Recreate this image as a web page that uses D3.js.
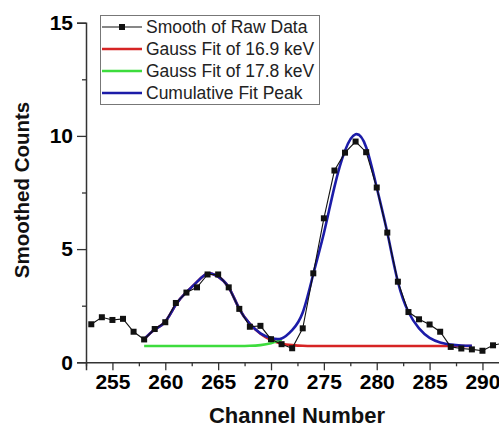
<!DOCTYPE html>
<html>
<head>
<meta charset="utf-8">
<script src="https://cdn.jsdelivr.net/npm/d3@7"></script>
<style>
  body { margin: 0; background: #fff; }
  svg { display: block; font-family: "Liberation Sans", Arial, sans-serif; }
</style>
</head>
<body>
<svg id="chart" width="499" height="430"></svg>
<script>
// raw (smoothed) counts, one per channel
const channels = d3.range(253, 293)
const smoothed = [1.68, 1.99, 1.87, 1.92, 1.35, 1.01, 1.47, 1.77, 2.62, 3.08,
                  3.31, 3.88, 3.88, 3.31, 2.36, 1.57, 1.61, 1.02, 0.80, 0.62,
                  1.50, 3.93, 6.36, 8.47, 9.26, 9.75, 9.28, 7.72, 5.73, 3.56,
                  2.22, 1.90, 1.67, 1.35, 0.68, 0.61, 0.57, 0.51, 0.75, 0.85]

// fit curves at each channel
const fitChannels = d3.range(258, 290)
const cumulativeFit = [1.02, 1.45, 1.80, 2.55, 3.10, 3.55, 3.92, 3.78, 3.31, 2.36,
                       1.70, 1.28, 1.07, 1.05, 1.42, 2.20, 3.90, 5.70, 7.75, 9.35,
                       10.07, 9.50, 7.72, 5.73, 3.56, 2.22, 1.50, 1.08, 0.88, 0.78,
                       0.74, 0.73]
const gauss169 = [1.02, 1.45, 1.80, 2.55, 3.10, 3.55, 3.92, 3.78, 3.31, 2.36,
                  1.70, 1.26, 0.98, 0.82, 0.76, 0.73, 0.72, 0.72, 0.72, 0.72,
                  0.72, 0.72, 0.72, 0.72, 0.72, 0.72, 0.72, 0.72, 0.72, 0.72,
                  0.72, 0.72]
const gauss178Channels = d3.range(258, 272)
const gauss178 = [0.72, 0.72, 0.72, 0.72, 0.72, 0.72, 0.72, 0.72, 0.72, 0.72,
                  0.73, 0.76, 0.84, 1.00]

const xTicks = [255, 260, 265, 270, 275, 280, 285, 290]
const xMinor = [252.5, 257.5, 262.5, 267.5, 272.5, 277.5, 282.5, 287.5]
const yTicks = [0, 5, 10, 15]
const yMinor = [2.5, 7.5, 12.5]
const legendLabels = ["Smooth of Raw Data", "Gauss Fit of 16.9 keV",
                      "Gauss Fit of 17.8 keV", "Cumulative Fit Peak"]

const colors = { raw: "#111", red: "#d62424", green: "#3ddc3d", blue: "#1c1ca8" }

const svg = d3.select("#chart")

const x = d3.scaleLinear().domain([252.5, 292]).range([86, 503.6])
const y = d3.scaleLinear().domain([0, 15]).range([362.3, 22.7])

// axes
const axisColor = "#333"
function styleAxis(g, fontSize) {
    g.select(".domain").attr("stroke", axisColor).attr("stroke-width", 1.5)
    g.selectAll(".tick line").attr("stroke", axisColor).attr("stroke-width", 1.3)
    g.selectAll(".tick text")
        .attr("fill", "#000")
        .style("font-size", fontSize + "px")
        .style("font-weight", "bold")
}

svg.append("g")
    .attr("transform", `translate(0,${y(0)})`)
    .call(d3.axisBottom(x).tickValues(xTicks).tickSize(8).tickPadding(4).tickFormat(d3.format("d")))
    .call(g => styleAxis(g, 21))
svg.append("g")
    .attr("transform", `translate(0,${y(0)})`)
    .call(d3.axisBottom(x).tickValues(xMinor).tickSize(4).tickFormat(""))
    .call(g => styleAxis(g, 21))
    .call(g => g.select(".domain").remove())

svg.append("g")
    .attr("transform", `translate(${x(252.5)},0)`)
    .call(d3.axisLeft(y).tickValues(yTicks).tickSize(9).tickPadding(4).tickFormat(d3.format("d")))
    .call(g => styleAxis(g, 21))
svg.append("g")
    .attr("transform", `translate(${x(252.5)},0)`)
    .call(d3.axisLeft(y).tickValues(yMinor).tickSize(4).tickFormat(""))
    .call(g => styleAxis(g, 21))
    .call(g => g.select(".domain").remove())

// axis titles
svg.append("text")
    .attr("x", 297).attr("y", 423)
    .attr("text-anchor", "middle")
    .style("font-size", "22px").style("font-weight", "bold")
    .attr("fill", "#111")
    .text("Channel Number")

svg.append("text")
    .attr("transform", "translate(29,190) rotate(-90)")
    .attr("text-anchor", "middle")
    .style("font-size", "20.5px").style("font-weight", "bold")
    .attr("fill", "#111")
    .text("Smoothed Counts")

// fit curves
const smoothLine = d3.line()
    .x(d => x(d[0]))
    .y(d => y(d[1]))
    .curve(d3.curveNatural)

const curves = [
    { ch: fitChannels, v: gauss169, color: colors.red },
    { ch: gauss178Channels, v: gauss178, color: colors.green },
    { ch: fitChannels, v: cumulativeFit, color: colors.blue }
]
svg.append("g").selectAll("path")
    .data(curves)
    .join("path")
    .attr("d", c => smoothLine(c.ch.map((ch, i) => [ch, c.v[i]])))
    .attr("fill", "none")
    .attr("stroke", c => c.color)
    .attr("stroke-width", 2.6)

// raw data line + square markers
const raw = channels.map((ch, i) => ({ ch: ch, v: smoothed[i] }))
svg.append("path")
    .datum(raw)
    .attr("d", d3.line().x(d => x(d.ch)).y(d => y(d.v)))
    .attr("fill", "none")
    .attr("stroke", colors.raw)
    .attr("stroke-width", 1.1)

const sq = 6
svg.append("g").selectAll("rect")
    .data(raw)
    .join("rect")
    .attr("x", d => x(d.ch) - sq / 2)
    .attr("y", d => y(d.v) - sq / 2)
    .attr("width", sq)
    .attr("height", sq)
    .attr("fill", colors.raw)

// legend
const legend = svg.append("g")
legend.append("rect")
    .attr("x", 100.5).attr("y", 15.5)
    .attr("width", 219).attr("height", 89)
    .attr("fill", "#fff")
    .attr("stroke", "#777")
    .attr("stroke-width", 1)

const legendColors = [colors.raw, colors.red, colors.green, colors.blue]
const rows = legend.selectAll("g.row")
    .data(legendLabels)
    .join("g")
    .attr("class", "row")
    .attr("transform", (d, i) => `translate(0,${27 + i * 22})`)

rows.append("line")
    .attr("x1", 102).attr("x2", 142)
    .attr("stroke", (d, i) => legendColors[i])
    .attr("stroke-width", (d, i) => i === 0 ? 1.1 : 2.6)
rows.filter((d, i) => i === 0)
    .append("rect")
    .attr("x", 122 - sq / 2).attr("y", -sq / 2)
    .attr("width", sq).attr("height", sq)
    .attr("fill", colors.raw)
rows.append("text")
    .attr("x", 146)
    .attr("dy", "0.35em")
    .style("font-size", "17.5px")
    .attr("fill", "#222")
    .text(d => d)
</script>
</body>
</html>
